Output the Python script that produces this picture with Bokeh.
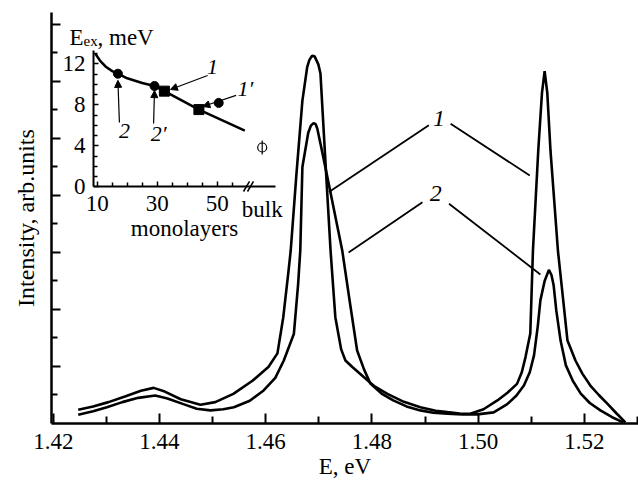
import math
from bokeh.plotting import figure
from bokeh.models import Range1d, LinearAxis, FixedTicker, ColumnDataSource, Arrow, NormalHead
from bokeh.embed import file_html
from bokeh.resources import INLINE
from bokeh.core.properties import value

FONT = "Liberation Serif"

# ---------------- main spectra ----------------
E1 = [1.4247, 1.4275, 1.4304, 1.4335, 1.4365, 1.4389, 1.4410, 1.4440, 1.4477, 1.4505,
      1.4539, 1.4575, 1.4605, 1.4622, 1.4633, 1.4643, 1.4647, 1.4658, 1.4669, 1.4678,
      1.4682, 1.4687, 1.4692, 1.4699, 1.4703, 1.4712, 1.4722, 1.4731, 1.4742, 1.4750,
      1.4763, 1.4785, 1.4805, 1.4829, 1.4860, 1.4891, 1.4920, 1.4942, 1.4965, 1.4985,
      1.5010, 1.5036, 1.5055, 1.5073, 1.5082, 1.5089, 1.5098, 1.5103, 1.5113, 1.5120,
      1.5125, 1.5130, 1.5136, 1.5150, 1.5160, 1.5168, 1.5183, 1.5196, 1.5211, 1.5227,
      1.5243, 1.5260, 1.5277]
I1 = [0.48, 0.60, 0.75, 0.95, 1.15, 1.25, 1.12, 0.85, 0.66, 0.75,
      1.04, 1.50, 1.98, 2.46, 3.73, 5.37, 6.07, 8.80, 11.33, 12.50,
      12.75, 12.90, 12.88, 12.60, 12.28, 9.30, 6.07, 3.73, 2.60, 2.21,
      1.98, 1.62, 1.30, 1.04, 0.76, 0.57, 0.45, 0.40, 0.35, 0.34,
      0.50, 0.81, 1.08, 1.39, 1.80, 2.33, 3.16, 6.07, 9.58, 11.60,
      12.36, 11.60, 9.58, 6.07, 4.32, 2.91, 2.21, 1.75, 1.33, 1.00,
      0.70, 0.36, 0.04]

E2 = [1.4247, 1.4275, 1.4301, 1.4330, 1.4360, 1.4392, 1.4415, 1.4445, 1.4470, 1.4496,
      1.4520, 1.4540, 1.4570, 1.4596, 1.4618, 1.4634, 1.4653, 1.4661, 1.4665, 1.4669,
      1.4680, 1.4685, 1.4690, 1.4694, 1.4697, 1.4703, 1.4722, 1.4744, 1.4758, 1.4772,
      1.4785, 1.4797, 1.4818, 1.4840, 1.4865, 1.4891, 1.4915, 1.4942, 1.4970, 1.4998,
      1.5029, 1.5054, 1.5072, 1.5086, 1.5097, 1.5105, 1.5112, 1.5117, 1.5125, 1.5133,
      1.5138, 1.5142, 1.5147, 1.5155, 1.5165, 1.5178, 1.5193, 1.5210, 1.5230, 1.5252,
      1.5273]
I2 = [0.31, 0.43, 0.57, 0.75, 0.90, 0.98, 0.88, 0.68, 0.52, 0.46,
      0.50, 0.57, 0.80, 1.16, 1.60, 2.21, 3.15, 4.90, 6.07, 9.00,
      10.20, 10.45, 10.54, 10.50, 10.35, 9.82, 8.10, 6.07, 4.30, 2.56,
      1.90, 1.40, 1.05, 0.81, 0.60, 0.46, 0.38, 0.34, 0.32, 0.32,
      0.39, 0.67, 0.98, 1.33, 1.80, 2.39, 3.40, 4.32, 5.00, 5.39,
      5.20, 4.84, 3.96, 2.91, 2.04, 1.50, 1.05, 0.72, 0.46, 0.22,
      0.04]

x_ticks = [1.42, 1.44, 1.46, 1.48, 1.50, 1.52]
x_tick_labels = ["1.42", "1.44", "1.46", "1.48", "1.50", "1.52"]
x_minor = [1.43, 1.45, 1.47, 1.49, 1.51, 1.53]
y_ticks = [2, 4, 6, 8, 10, 12, 14]
y_minor = [1, 3, 5, 7, 9, 11, 13]

# curve labels with leader lines (main plot)
lab_text = ["1", "2"]
lab_x = [1.4926, 1.4920]
lab_y = [10.70, 8.06]
lead_x0 = [1.4907, 1.4948, 1.4895, 1.4945]
lead_y0 = [10.46, 10.52, 7.76, 7.71]
lead_x1 = [1.4719, 1.5097, 1.4756, 1.5117]
lead_y1 = [8.12, 8.70, 6.00, 5.23]

# ---------------- inset: exciton binding energy ----------------
ml_curve = [9.4, 11.0, 13.0, 15.0, 16.9, 20.0, 25.0, 29.1, 32.4, 43.9, 59.2]
ev_curve = [13.0, 12.3, 11.7, 11.3, 11.05, 10.6, 10.15, 9.85, 9.35, 7.55, 5.5]
ml_circ = [16.9, 29.1, 50.5]
ev_circ = [11.05, 9.85, 8.2]
ml_sq = [32.4, 43.9]
ev_sq = [9.35, 7.55]
ml_bulk = [65.0]
ev_bulk = [3.85]
ins_x_ticks = [10, 30, 50]
ins_x_minor = [15, 20, 25, 35, 40, 45, 55]
ins_y_ticks = [0, 4, 8, 12]
ins_y_minor = [1, 2, 3, 5, 6, 7, 9, 10, 11, 13]

ins_lab_text = ["1", "1\u2032", "2", "2\u2032"]
ins_lab_x = [48.4, 59.4, 19.1, 30.5]
ins_lab_y = [11.7, 9.6, 5.5, 5.2]
arr_x0 = [46.8, 56.3, 17.4, 28.8]
arr_y0 = [10.88, 8.93, 6.3, 6.2]
arr_x1 = [34.4, 45.2, 16.9, 29.1]
arr_y1 = [9.51, 7.85, 10.4, 9.4]

p = figure(width=638, height=487,
           x_range=Range1d(1.41967, 1.53017), y_range=Range1d(0, 14.42),
           output_backend="svg", toolbar_location=None,
           min_border_left=51, min_border_right=0, min_border_top=12, min_border_bottom=64)
p.outline_line_color = None
p.grid.visible = False
p.background_fill_color = "white"
p.border_fill_color = "white"

xa = p.xaxis[0]
xa.ticker = FixedTicker(ticks=x_ticks, minor_ticks=x_minor)
xa.major_label_overrides = dict(zip(x_ticks, x_tick_labels))
xa.axis_line_width = 2.5
xa.major_tick_in = 10
xa.major_tick_out = 0
xa.minor_tick_in = 7
xa.minor_tick_out = 0
xa.major_tick_line_width = 2
xa.minor_tick_line_width = 2
xa.major_label_text_font = FONT
xa.major_label_text_font_size = "23px"
xa.major_label_text_color = "black"
xa.major_label_standoff = 10
xa.axis_label = "E, eV"
xa.axis_label_text_font = FONT
xa.axis_label_text_font_style = "normal"
xa.axis_label_text_font_size = "23px"
xa.axis_label_text_color = "black"
xa.axis_label_standoff = 2

ya = p.yaxis[0]
ya.ticker = FixedTicker(ticks=y_ticks, minor_ticks=y_minor)
ya.axis_line_width = 2.5
ya.major_tick_in = 9
ya.major_tick_out = 0
ya.minor_tick_in = 6
ya.minor_tick_out = 0
ya.major_tick_line_width = 2
ya.minor_tick_line_width = 2
ya.major_label_overrides = {t: "" for t in y_ticks}
ya.major_label_standoff = 0
ya.axis_label = "Intensity, arb.units"
ya.axis_label_text_font = FONT
ya.axis_label_text_font_style = "normal"
ya.axis_label_text_font_size = "24px"
ya.axis_label_text_color = "black"
ya.axis_label_standoff = 13

p.line(E1, I1, line_width=2.6, color="black")
p.line(E2, I2, line_width=2.6, color="black")
p.segment(lead_x0, lead_y0, lead_x1, lead_y1, line_width=1.8, color="black")
p.text(lab_x, lab_y, text=lab_text, text_font=value(FONT), text_font_style="italic",
       text_font_size="24px", text_align="center", text_baseline="middle", color="black")

# ---------------- inset ----------------
p.extra_x_ranges = {"ix": Range1d(-5.233, 190.43)}
p.extra_y_ranges = {"iy": Range1d(-23.07, 17.02)}

iax = LinearAxis(x_range_name="ix", y_range_name="iy", fixed_location=0, bounds=(8.8, 69.4),
                 ticker=FixedTicker(ticks=ins_x_ticks, minor_ticks=ins_x_minor))
iay = LinearAxis(x_range_name="ix", y_range_name="iy", fixed_location=8.77, bounds=(0, 13.3),
                 ticker=FixedTicker(ticks=ins_y_ticks, minor_ticks=ins_y_minor))
for a in (iax, iay):
    a.axis_line_width = 2
    a.major_tick_in = 5
    a.major_tick_out = 0
    a.minor_tick_in = 4
    a.minor_tick_out = 0
    a.major_tick_line_width = 1.5
    a.minor_tick_line_width = 1.5
    a.major_label_text_font = FONT
    a.major_label_text_font_size = "23px"
    a.major_label_text_color = "black"
    a.axis_label_text_font = FONT
    a.axis_label_text_font_style = "normal"
    a.axis_label_text_font_size = "23px"
    a.axis_label_text_color = "black"
iax.major_label_standoff = 9
iax.axis_label = "monolayers"
iax.axis_label_standoff = 2
iay.major_label_standoff = 8
p.add_layout(iax, "below")
p.add_layout(iay, "left")

R = dict(x_range_name="ix", y_range_name="iy")
p.line(ml_curve, ev_curve, line_width=2.6, color="black", **R)
p.scatter(ml_circ, ev_circ, marker="circle", size=9, color="black", **R)
p.scatter(ml_sq, ev_sq, marker="square", size=10, color="black", **R)
p.scatter(ml_bulk, ev_bulk, marker="circle", size=9, fill_color=None, line_color="black", line_width=1.2, **R)
p.scatter(ml_bulk, ev_bulk, marker="dash", angle=math.pi / 2, size=14, line_color="black", line_width=1.2, **R)

# axis break "//" and bulk label
p.segment([58.77, 60.1], [-0.44, -0.44], [60.77, 62.1], [0.54, 0.54], line_width=1.5, color="black", **R)
p.text([65.0], [-2.2], text=["bulk"], text_font=value(FONT), text_font_size="23px",
       text_align="center", text_baseline="middle", color="black", **R)

# inset arrows and labels
asrc = ColumnDataSource(dict(x0=arr_x0, y0=arr_y0, x1=arr_x1, y1=arr_y1))
p.add_layout(Arrow(end=NormalHead(size=7, fill_color="black", line_color="black"),
                   x_start="x0", y_start="y0", x_end="x1", y_end="y1", source=asrc,
                   line_width=1.2, line_color="black", **R))
p.text(ins_lab_x, ins_lab_y, text=ins_lab_text, text_font=value(FONT), text_font_style="italic",
       text_font_size="22px", text_align="center", text_baseline="middle", color="black", **R)

# inset title E_ex, meV
p.text([0.767], [14.59], text=["E"], text_font=value(FONT), text_font_size="23px",
       text_align="left", text_baseline="alphabetic", color="black", **R)
p.text([5.43], [14.2], text=["ex"], text_font=value(FONT), text_font_size="15px",
       text_align="left", text_baseline="alphabetic", color="black", **R)
p.text([10.1], [14.59], text=[", meV"], text_font=value(FONT), text_font_size="23px",
       text_align="left", text_baseline="alphabetic", color="black", **R)

open("out.html", "w").write(file_html(p, INLINE))
